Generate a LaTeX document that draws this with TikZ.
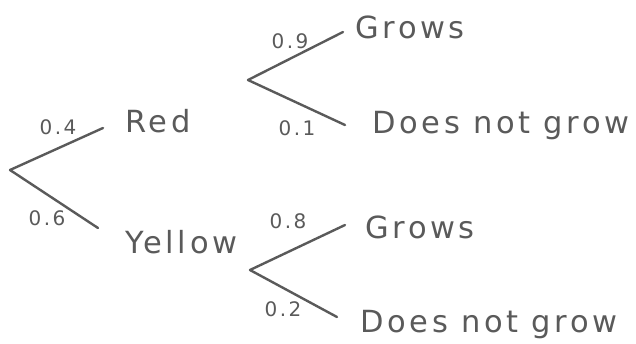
\documentclass[tikz,border=0pt]{standalone}
\usepackage{fontspec}
\setmainfont{DejaVu Sans}[LetterSpace=12]
\definecolor{ink}{HTML}{5A5A5A}
\begin{document}
\begin{tikzpicture}[x=1pt,y=-1pt,
  branch/.style={draw=ink,line width=2.4pt,line cap=round},
  word/.style={text=ink,font=\fontsize{30.5}{34}\selectfont,inner sep=0pt,anchor=base west},
  prob/.style={text=ink,font=\fontsize{20}{22}\selectfont,inner sep=0pt}]
\useasboundingbox (0,0) rectangle (636,343);
% branch points
\coordinate (root) at (10,170);
\coordinate (redend) at (103,128);
\coordinate (yelend) at (98,228);
\coordinate (uroot) at (248,80);
\coordinate (ug) at (343,32);
\coordinate (ud) at (345,125);
\coordinate (lroot) at (250,270);
\coordinate (lg) at (345,225);
\coordinate (ld) at (337,317);
% words
\node[word] (red) at (125,132) {Red};
\node[word] (yellow) at (125,253) {Yellow};
\node[word] (grows1) at (355,38) {Grows};
\node[word] (dng1) at (372,133) {Does not grow};
\node[word] (grows2) at (365,238) {Grows};
\node[word] (dng2) at (360,332) {Does not grow};
% probabilities
\node[prob] (p04) at (58,127) {0.4};
\node[prob] (p06) at (47,218) {0.6};
\node[prob] (p09) at (290,41) {0.9};
\node[prob] (p01) at (297,128) {0.1};
\node[prob] (p08) at (288,221) {0.8};
\node[prob] (p02) at (283,309) {0.2};
% branches
\draw[branch] (root) -- (redend);
\draw[branch] (root) -- (yelend);
\draw[branch] (uroot) -- (ug);
\draw[branch] (uroot) -- (ud);
\draw[branch] (lroot) -- (lg);
\draw[branch] (lroot) -- (ld);
\end{tikzpicture}
\end{document}
